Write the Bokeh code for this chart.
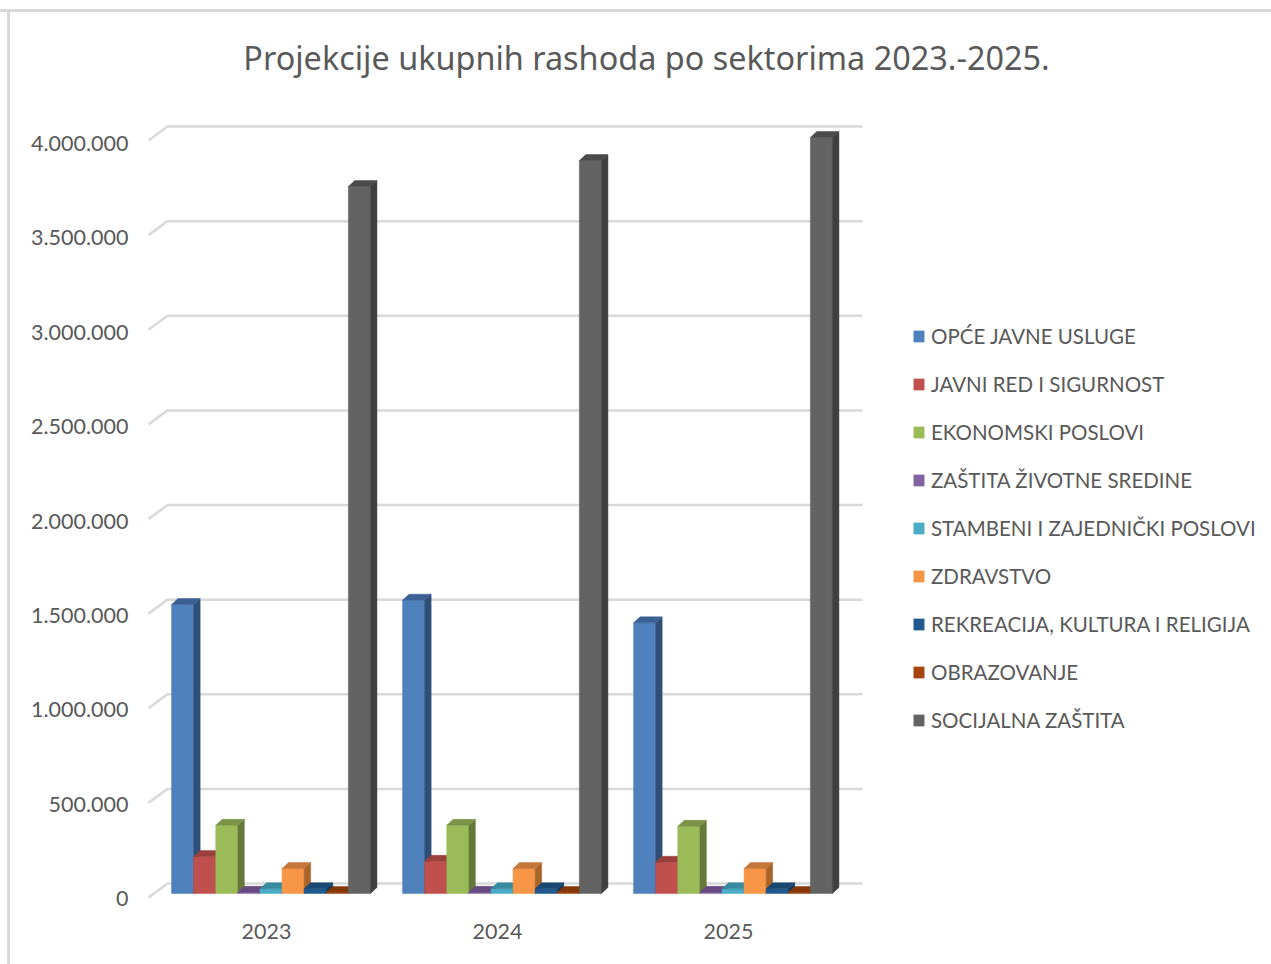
from bokeh.plotting import figure
from bokeh.models import Range1d, LinearAxis, FixedTicker, Legend, LegendItem
from bokeh.core.properties import value
from bokeh.embed import file_html
from bokeh.resources import INLINE

title = "Projekcije ukupnih rashoda po sektorima 2023.-2025."
years = ["2023", "2024", "2025"]
names = ["OPĆE JAVNE USLUGE", "JAVNI RED I SIGURNOST", "EKONOMSKI POSLOVI",
         "ZAŠTITA ŽIVOTNE SREDINE", "STAMBENI I ZAJEDNIČKI POSLOVI", "ZDRAVSTVO",
         "REKREACIJA, KULTURA I RELIGIJA", "OBRAZOVANJE", "SOCIJALNA ZAŠTITA"]
opce = [1527000, 1550000, 1430000]
javni = [195000, 170000, 165000]
ekonomski = [360000, 360000, 355000]
zastita = [6000, 6000, 6000]
stambeni = [25000, 25000, 25000]
zdravstvo = [132000, 132000, 132000]
rekreacija = [25000, 25000, 25000]
obrazovanje = [5000, 5000, 5000]
socijalna = [3736000, 3873000, 3995000]
y_ticks = [0, 500000, 1000000, 1500000, 2000000, 2500000, 3000000, 3500000, 4000000]
y_labels = ["0", "500.000", "1.000.000", "1.500.000", "2.000.000", "2.500.000",
            "3.000.000", "3.500.000", "4.000.000"]
front = ["#4f81bd", "#c0504d", "#9bbb59", "#8064a2", "#4bacc6", "#f79646", "#215a8e", "#a5450d", "#636363"]
side = ["#2f4f78", "#8f3b39", "#66793a", "#54416c", "#2f7386", "#a9642c", "#153a5d", "#6d2e08", "#3f3f3f"]
top = ["#3b6194", "#9c403d", "#7a9347", "#65497f", "#388a9f", "#c5773a", "#1a4872", "#843808", "#4b4b4b"]
series = [opce, javni, ekonomski, zastita, stambeni, zdravstvo, rekreacija, obrazovanje, socijalna]

# page geometry
W, H = 1271, 964
F_L, F_T, F_R, F_B = 135, 20, 1271, 910
PITCH, X0 = 231.0, 270.5
PX = 189.25e-6  # px per value
Y0 = 893.0
def xd(px): return (px - X0) / PITCH
def yd(py): return (Y0 - py) / PX

p = figure(width=W, height=H, output_backend="svg", toolbar_location=None,
           x_range=Range1d(xd(F_L), xd(F_R)), y_range=Range1d(yd(F_B), yd(F_T)),
           min_border_left=F_L, min_border_right=0, min_border_top=F_T,
           min_border_bottom=H - F_B, outline_line_color=None,
           border_fill_color=None, background_fill_color=None,
           x_axis_type=None, y_axis_type=None)
p.styles = {
    "background-image": "linear-gradient(#d9d9d9,#d9d9d9), linear-gradient(#d9d9d9,#d9d9d9)",
    "background-size": "100% 3px, 3px 100%",
    "background-position": "0 9px, 7px 9px",
    "background-repeat": "no-repeat",
}
p.grid.visible = False
p.extra_y_ranges["labels"] = Range1d((898 - F_B) / 188.75e-6, (898 - F_T) / 188.75e-6)
p.extra_x_ranges["labels"] = Range1d(xd(F_L + 4.5), xd(F_R + 4.5))

TXT = "#595959"
yax = LinearAxis(y_range_name="labels", ticker=FixedTicker(ticks=y_ticks),
                 major_label_overrides={t: l for t, l in zip(y_ticks, y_labels)})
xax = LinearAxis(x_range_name="labels", ticker=FixedTicker(ticks=[0, 1, 2]),
                 major_label_overrides={i: y for i, y in enumerate(years)})
for ax, st in ((yax, 1), (xax, 7)):
    ax.axis_line_color = None
    ax.major_tick_line_color = None
    ax.minor_tick_line_color = None
    ax.major_label_text_color = TXT
    ax.major_label_text_font = "Lato"
    ax.major_label_text_font_size = "21.5px"
    ax.major_label_standoff = st
p.add_layout(yax, "left")
p.add_layout(xax, "below")

# gridlines with the 3D wall and floor step
g_x, g_y = [], []
for t in y_ticks:
    back = t + 10 / 189.25e-6
    low = t - 4 / 189.25e-6
    g_x.append([xd(148), xd(167), xd(862)])
    g_y.append([low, back, back])
p.multi_line(g_x, g_y, line_color="#d9d9d9", line_width=2.5)

# bars
w = 22.1 / PITCH
dx = 6.5 / PITCH
dy = 6.0 / 189.25e-6
items = []
for i, (s, nm) in enumerate(zip(series, names)):
    xs = [g + (i - 4) * w for g in range(3)]
    r = p.vbar(x=xs, top=s, bottom=0, width=w, fill_color=front[i], line_color=front[i], line_width=0.5)
    sx, sy, tx, ty = [], [], [], []
    for x, v in zip(xs, s):
        xl, xr = x - w / 2, x + w / 2
        sx.append([xr, xr + dx, xr + dx, xr])
        sy.append([0, dy, v + dy, v])
        tx.append([xl, xr, xr + dx, xl + dx])
        ty.append([v, v, v + dy, v + dy])
    p.patches(sx, sy, fill_color=side[i], line_color=side[i], line_width=0.5)
    p.patches(tx, ty, fill_color=top[i], line_color=top[i], line_width=0.5)
    items.append(LegendItem(label=nm, renderers=[r]))

legend = Legend(items=items, location=(912 - F_L, F_B - 732), orientation="vertical",
                border_line_color=None, background_fill_alpha=0, margin=0, padding=0,
                glyph_width=13, glyph_height=14, label_standoff=6, spacing=24,
                label_text_font="Lato", label_text_font_size="20.5px", label_text_color=TXT,
                label_height=22)
p.add_layout(legend, "center")

p.text([xd(646)], [yd(56)], text=[title], text_align="center", text_baseline="middle",
       text_font=value("Noto Sans"), text_font_size="32.4px", text_color=TXT)

open("out.html", "w").write(file_html(p, INLINE))
